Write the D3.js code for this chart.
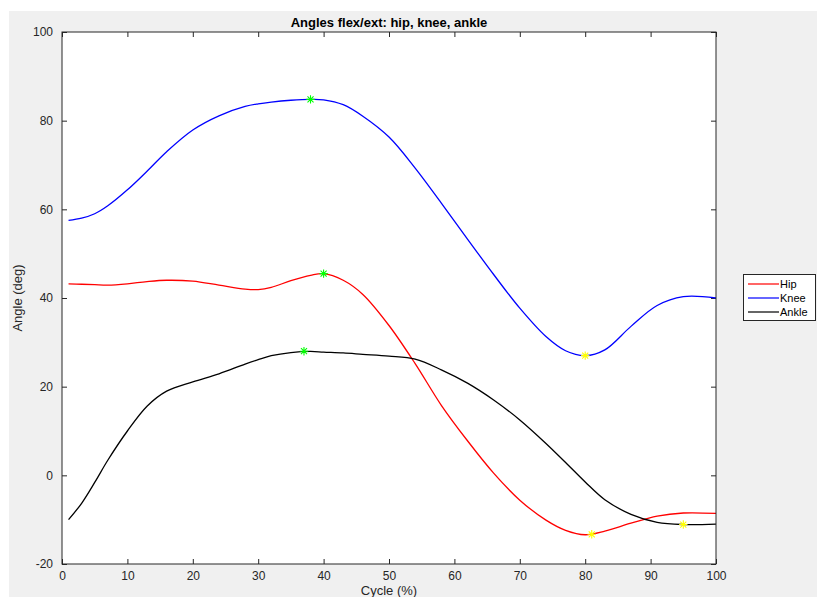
<!DOCTYPE html>
<html><head><meta charset="utf-8">
<script src="https://cdn.jsdelivr.net/npm/d3@7"></script>
<style>
body{margin:0;background:#fff}
text{font-family:"Liberation Sans",Arial,Helvetica,sans-serif}
</style>
</head><body><svg id="c" width="817" height="597"></svg>
<script>
// ---- data ----
const cycle = [1, 3, 5, 7, 10, 13, 16, 20, 24, 28, 30, 32, 35, 38, 40, 43, 46, 50, 54, 58, 62, 66, 70, 74, 77, 80, 83, 87, 91, 95, 100];
const hip   = [43.2, 43.1, 43.0, 42.9, 43.2, 43.7, 44.0, 43.8, 42.9, 42.0, 41.9, 42.4, 43.9, 45.1, 45.5, 44.0, 40.8, 33.8, 25.2, 15.8, 7.8, 0.5, -5.6, -10.1, -12.4, -13.4, -12.6, -10.8, -9.2, -8.5, -8.6];
const knee  = [57.5, 58.0, 59.0, 60.8, 64.4, 68.6, 73.0, 77.9, 81.1, 83.2, 83.8, 84.2, 84.6, 84.8, 84.7, 83.6, 81.0, 76.3, 69.3, 61.4, 53.3, 45.3, 37.7, 31.3, 28.1, 27.0, 28.3, 33.6, 38.3, 40.3, 40.0];
const ankle = [-10.0, -6.3, -1.6, 3.4, 10.0, 15.6, 19.0, 21.1, 22.9, 25.1, 26.1, 27.0, 27.7, 27.95, 27.8, 27.6, 27.3, 26.9, 26.2, 23.8, 20.8, 17.0, 12.5, 7.2, 2.9, -1.5, -5.5, -8.8, -10.6, -11.1, -11.0];
const seriesNames = ["Hip", "Knee", "Ankle"];
const seriesColors = ["#ff0000", "#0000ff", "#000000"];
const maxCycle = [40, 38, 37];
const maxValue = [45.5, 84.8, 28.0];
const minCycle = [81, 80, 95];
const minValue = [-13.3, 27.0, -11.1];
const xTicks = [0, 10, 20, 30, 40, 50, 60, 70, 80, 90, 100];
const yTicks = [-20, 0, 20, 40, 60, 80, 100];
const titleText = "Angles flex/ext: hip, knee, ankle";
const xLabel = "Cycle (%)";
const yLabel = "Angle (deg)";

// ---- layout ----
const W = 817, H = 597;
const L = 62, T = 32, R = 716, B = 564;
const axisColor = "#262626";

const svg = d3.select("#c");
svg.append("rect").attr("x", 9).attr("y", 11).attr("width", W - 9).attr("height", H - 11).attr("fill", "#f0f0f0");
svg.append("rect").attr("x", L).attr("y", T).attr("width", R - L).attr("height", B - T).attr("fill", "#ffffff");

const x = d3.scaleLinear().domain([0, 100]).range([L, R]);
const y = d3.scaleLinear().domain([-20, 100]).range([B, T]);
const fmt = d => String(d);

function styleAxis(g) {
  g.select(".domain").remove();
  g.selectAll(".tick line").attr("stroke", axisColor).attr("stroke-width", 1);
  g.selectAll(".tick text").attr("fill", axisColor).style("font-size", "12px")
    .style("font-family", '"Liberation Sans",Arial,sans-serif');
}

svg.append("g").attr("transform", `translate(0,${B})`)
  .call(d3.axisBottom(x).tickValues(xTicks).tickFormat(fmt).tickSizeInner(-5).tickSizeOuter(0).tickPadding(7))
  .call(styleAxis);
svg.append("g").attr("transform", `translate(0,${T})`)
  .call(d3.axisTop(x).tickValues(xTicks).tickSizeInner(-5).tickSizeOuter(0).tickFormat(""))
  .call(styleAxis);
svg.append("g").attr("transform", `translate(${L},0)`)
  .call(d3.axisLeft(y).tickValues(yTicks).tickFormat(fmt).tickSizeInner(-5).tickSizeOuter(0).tickPadding(9))
  .call(styleAxis);
svg.append("g").attr("transform", `translate(${R},0)`)
  .call(d3.axisRight(y).tickValues(yTicks).tickSizeInner(-5).tickSizeOuter(0).tickFormat(""))
  .call(styleAxis);

// clip
svg.append("clipPath").attr("id", "clip").append("rect")
  .attr("x", L).attr("y", T).attr("width", R - L).attr("height", B - T);

const seriesData = [hip, knee, ankle];
const line = d3.line().curve(d3.curveCatmullRom.alpha(0.5)).x(d => x(d[0])).y(d => y(d[1]));
const plot = svg.append("g").attr("clip-path", "url(#clip)");
seriesData.forEach((vals, i) => {
  plot.append("path")
    .datum(cycle.map((c, j) => [c, vals[j]]))
    .attr("d", line)
    .attr("fill", "none")
    .attr("stroke", seriesColors[i])
    .attr("stroke-width", 1.3);
});

// asterisk markers
function asterisk(r) {
  const a = r * 0.72;
  return `M${-r},0L${r},0M0,${-r}L0,${r}M${-a},${-a}L${a},${a}M${-a},${a}L${a},${-a}`;
}
seriesNames.forEach((n, i) => {
  plot.append("path").attr("d", asterisk(4.2))
    .attr("transform", `translate(${x(maxCycle[i])},${y(maxValue[i])})`)
    .attr("stroke", "#00ff00").attr("stroke-width", 1.1).attr("fill", "none");
  plot.append("path").attr("d", asterisk(4.2))
    .attr("transform", `translate(${x(minCycle[i])},${y(minValue[i])})`)
    .attr("stroke", "#ffff00").attr("stroke-width", 1.1).attr("fill", "none");
});

// border
svg.append("rect").attr("x", L).attr("y", T).attr("width", R - L).attr("height", B - T)
  .attr("fill", "none").attr("stroke", axisColor).attr("stroke-width", 1);

// title and labels
svg.append("text").attr("x", (L + R) / 2).attr("y", 27).attr("text-anchor", "middle")
  .style("font-size", "13px").style("font-weight", "bold").attr("fill", "#000").text(titleText);
svg.append("text").attr("x", (L + R) / 2).attr("y", 595).attr("text-anchor", "middle")
  .style("font-size", "13px").attr("fill", axisColor).text(xLabel);
svg.append("text").attr("transform", `translate(22,${(T + B) / 2}) rotate(-90)`).attr("text-anchor", "middle")
  .style("font-size", "13px").attr("fill", axisColor).text(yLabel);

// legend
const lg = svg.append("g");
lg.append("rect").attr("x", 743.5).attr("y", 274.5).attr("width", 72).attr("height", 46)
  .attr("fill", "#ffffff").attr("stroke", axisColor).attr("stroke-width", 1);
seriesNames.forEach((n, i) => {
  const yy = 284 + i * 14;
  lg.append("line").attr("x1", 748).attr("x2", 779).attr("y1", yy).attr("y2", yy)
    .attr("stroke", seriesColors[i]).attr("stroke-width", 1.2);
  lg.append("text").attr("x", 780).attr("y", yy + 4).style("font-size", "11px")
    .attr("fill", "#000").text(n);
});
</script>
</body></html>
